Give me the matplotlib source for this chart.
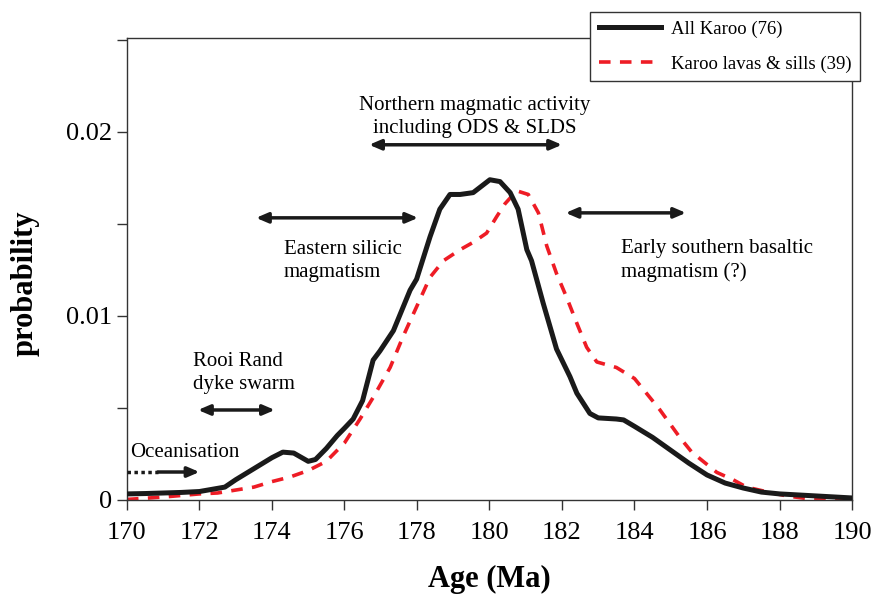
import matplotlib
matplotlib.use("Agg")
import matplotlib.pyplot as plt

# ---- data ----
all_age = [170.0, 170.5, 171.0, 171.5, 172.0, 172.7, 173.0, 173.5, 174.0, 174.3, 174.6,
           175.0, 175.2, 175.5, 175.8, 176.0, 176.24, 176.5, 176.79, 176.98, 177.35,
           177.81, 177.99, 178.36, 178.63, 178.91, 179.19, 179.55, 180.01, 180.29,
           180.57, 180.79, 181.03, 181.16, 181.48, 181.85, 182.22, 182.41, 182.77,
           183.0, 183.5, 183.7, 184.0, 184.5, 185.0, 185.5, 186.0, 186.5, 187.0,
           187.5, 188.0, 189.0, 190.0]
all_prob = [0.00033, 0.00035, 0.00038, 0.00041, 0.00046, 0.0007, 0.0011, 0.0017, 0.0023,
            0.0026, 0.00255, 0.0021, 0.0022, 0.0028, 0.0035, 0.0039, 0.0044, 0.0054,
            0.0076, 0.0081, 0.0092, 0.0114, 0.0120, 0.0143, 0.0158, 0.0166, 0.0166,
            0.0167, 0.0174, 0.0173, 0.0167, 0.0158, 0.0136, 0.0130, 0.0107, 0.0082,
            0.0067, 0.0058, 0.0047, 0.00446, 0.0044, 0.00435, 0.0040, 0.0034, 0.0027,
            0.0020, 0.00136, 0.00092, 0.00065, 0.00043, 0.00033, 0.00022, 0.00011]

lava_age = [170.0, 171.0, 172.0, 172.5, 173.0, 173.5, 174.0, 174.5, 175.0, 175.5, 176.0,
            176.43, 176.8, 177.26, 177.62, 177.99, 178.36, 178.73, 179.19, 179.55,
            179.92, 180.2, 180.43, 180.75, 181.07, 181.35, 181.58, 181.85, 182.13,
            182.41, 182.68, 182.96, 183.5, 184.0, 184.7, 185.25, 185.58, 186.27,
            186.72, 187.09, 187.64, 188.2, 188.9, 190.0]
lava_prob = [0.00003, 0.00016, 0.00033, 0.00038, 0.00054, 0.0007, 0.0010, 0.00125, 0.0016,
             0.0021, 0.0031, 0.0044, 0.0056, 0.0072, 0.0089, 0.0105, 0.0121, 0.0130,
             0.0136, 0.0140, 0.0145, 0.0154, 0.0161, 0.0168, 0.0166, 0.0156, 0.0138,
             0.0123, 0.0110, 0.0096, 0.0083, 0.0075, 0.0072, 0.0066, 0.0049, 0.0034,
             0.0026, 0.0015, 0.0011, 0.0007, 0.00045, 0.00022, 0.00004, 0.0]

labels = ["All Karoo (76)", "Karoo lavas & sills (39)"]
x_ticks = [170, 172, 174, 176, 178, 180, 182, 184, 186, 188, 190]
y_ticks = [0, 0.005, 0.01, 0.015, 0.02, 0.025]
y_tick_labels = ["0", "", "0.01", "", "0.02", ""]

plt.rcParams['font.family'] = ['Liberation Serif', 'DejaVu Serif']

fig = plt.figure(figsize=(8.78, 5.96), dpi=100)
ax = fig.add_axes([0.1446, 0.1611, 0.8258, 0.7751])

ax.plot(all_age, all_prob, color='#1a1a1a', lw=3.6, label=labels[0], zorder=3)
ax.plot(lava_age, lava_prob, color='#ee1c25', lw=2.6, ls=(0, (3.2, 2.6)),
        label=labels[1], zorder=2)

ax.set_xlim(170, 190)
ax.set_ylim(0, 0.0251)
ax.set_xticks(x_ticks)
ax.set_xticklabels([str(t) for t in x_ticks])
ax.set_yticks(y_ticks)
ax.set_yticklabels(y_tick_labels)
ax.tick_params(axis='both', direction='out', length=7, width=1, labelsize=19,
               color='#333333')
ax.tick_params(axis='x', pad=9)
ax.tick_params(axis='y', pad=4)
for s in ax.spines.values():
    s.set_linewidth(1.0)
    s.set_color('#333333')

ax.set_xlabel("Age (Ma)", fontsize=22, fontweight='bold')
ax.xaxis.set_label_coords(0.5, -0.14)
ax.set_ylabel("probability", fontsize=22, fontweight='bold')
ax.yaxis.set_label_coords(-0.12, 0.47)

leg = ax.legend(loc='upper right', bbox_to_anchor=(860 / 878, 1 - 12 / 596),
                bbox_transform=fig.transFigure, fontsize=13.5, frameon=True,
                fancybox=False, edgecolor='#333333', framealpha=1,
                handlelength=3.3, handletextpad=0.55, borderpad=0.45,
                labelspacing=0.95, borderaxespad=0)
leg.get_frame().set_linewidth(1.0)
leg.set_zorder(10)

tfs = 15
lsp = 1.3
arrow_kw = dict(arrowstyle='<|-|>,head_length=0.7,head_width=0.3', color='#1a1a1a',
                lw=2.5, shrinkA=0, shrinkB=0)

# Northern magmatic activity
ax.annotate('', xy=(176.68, 0.0193), xytext=(182.0, 0.0193), arrowprops=arrow_kw)
ax.text(179.6, 0.0208, "Northern magmatic activity\nincluding ODS & SLDS",
        ha='center', va='center', fontsize=tfs, linespacing=lsp)

# Eastern silicic
ax.annotate('', xy=(173.56, 0.01533), xytext=(178.03, 0.01533), arrowprops=arrow_kw)
ax.text(174.33, 0.0130, "Eastern silicic\nmagmatism", ha='left', va='center',
        fontsize=tfs, linespacing=lsp)

# Early southern basaltic
ax.annotate('', xy=(182.1, 0.0156), xytext=(185.42, 0.0156), arrowprops=arrow_kw)
ax.text(183.63, 0.0130, "Early southern basaltic\nmagmatism (?)", ha='left',
        va='center', fontsize=tfs, linespacing=lsp)

# Rooi Rand
ax.annotate('', xy=(171.96, 0.00489), xytext=(174.08, 0.00489), arrowprops=arrow_kw)
ax.text(171.82, 0.0069, "Rooi Rand\ndyke swarm", ha='left', va='center',
        fontsize=tfs, linespacing=lsp)

# Oceanisation
ax.plot([170.0, 170.85], [0.00152, 0.00152], color='#1a1a1a', lw=2.5, ls=(0, (1, 1)),
        zorder=3)
ax.annotate('', xy=(172.0, 0.00152), xytext=(170.85, 0.00152),
            arrowprops=dict(arrowstyle='-|>,head_length=0.7,head_width=0.3',
                            color='#1a1a1a', lw=2.5, shrinkA=0, shrinkB=0))
ax.text(170.1, 0.0026, "Oceanisation", ha='left', va='center', fontsize=tfs)

fig.savefig("out.png", dpi=100)
